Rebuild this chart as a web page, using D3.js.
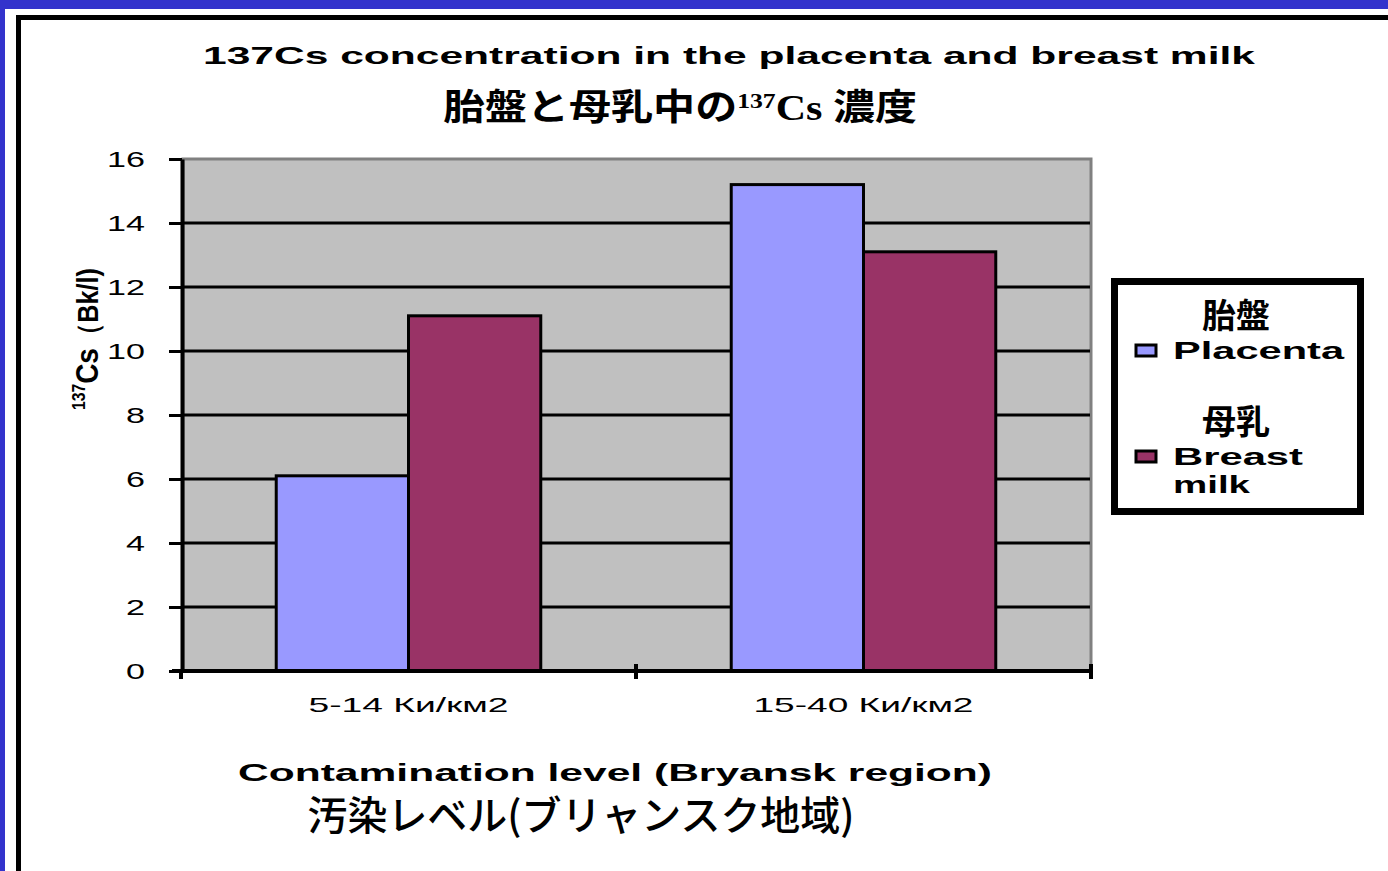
<!DOCTYPE html>
<html>
<head>
<meta charset="utf-8">
<script src="https://cdn.jsdelivr.net/npm/d3@7"></script>
<style>
  body { margin: 0; background: #3333cc; }
  svg { display: block; }
</style>
</head>
<body>
<div id="chart"></div>
<script>
(function() {

  // data
  var categories = ["5-14 Ки/км2", "15-40 Ки/км2"];
  var seriesNames = ["Placenta", "Breast milk"];
  var seriesJa = ["胎盤", "母乳"];
  var placenta = [6.1, 15.2];
  var breastMilk = [11.1, 13.1];
  var yTicks = [0, 2, 4, 6, 8, 10, 12, 14, 16];
  var colors = ["#9999ff", "#993366"];

  var width = 1388, height = 871;
  var latin = "'Liberation Sans', Arial, sans-serif";
  var cjk = "'Noto Sans CJK JP', sans-serif";

  var svg = d3.select("#chart").append("svg")
    .attr("width", width)
    .attr("height", height);

  // slide background: blue edge, white page, black frame
  svg.append("rect").attr("width", width).attr("height", height).attr("fill", "#3333cc");
  svg.append("rect").attr("x", 5).attr("y", 9).attr("width", width).attr("height", height).attr("fill", "#fff");
  svg.append("rect").attr("x", 18.5).attr("y", 17.5).attr("width", width + 50).attr("height", height + 50)
    .attr("fill", "#fff").attr("stroke", "#000").attr("stroke-width", 5);

  // stretch text horizontally, like the wide original font
  function stretch(sel, k) {
    sel.each(function() {
      var w = this.getComputedTextLength();
      d3.select(this).attr("textLength", w * k).attr("lengthAdjust", "spacingAndGlyphs");
    });
  }

  var plot = { left: 183, right: 1091, top: 159, bottom: 671 };

  var y = d3.scaleLinear().domain([0, 16]).range([plot.bottom, plot.top]);
  var x0 = d3.scaleBand().domain(categories).range([plot.left - 2, plot.right]).padding(0);
  var x1 = d3.scaleBand().domain(seriesNames).range([0, x0.bandwidth()]).paddingInner(0).paddingOuter(0.72);

  // plot area
  svg.append("rect")
    .attr("x", plot.left).attr("y", plot.top)
    .attr("width", plot.right - plot.left).attr("height", plot.bottom - plot.top)
    .attr("fill", "#c0c0c0").attr("stroke", "#808080").attr("stroke-width", 3);

  // gridlines
  svg.selectAll(".grid")
    .data(yTicks.filter(function(d) { return d > 0 && d < 16; }))
    .enter().append("line")
    .attr("class", "grid")
    .attr("x1", plot.left).attr("x2", plot.right - 1)
    .attr("y1", function(d) { return y(d); })
    .attr("y2", function(d) { return y(d); })
    .attr("stroke", "#000").attr("stroke-width", 3);

  // bars
  var rows = categories.map(function(c, i) {
    return { cat: c, values: [placenta[i], breastMilk[i]] };
  });
  var groups = svg.selectAll(".group")
    .data(rows)
    .enter().append("g")
    .attr("class", "group")
    .attr("transform", function(d) { return "translate(" + x0(d.cat) + ",0)"; });

  groups.selectAll("rect")
    .data(function(d) {
      return d.values.map(function(v, j) { return { name: seriesNames[j], value: v, j: j }; });
    })
    .enter().append("rect")
    .attr("x", function(d) { return x1(d.name); })
    .attr("width", x1.bandwidth())
    .attr("y", function(d) { return y(d.value); })
    .attr("height", function(d) { return y(0) - y(d.value); })
    .attr("fill", function(d) { return colors[d.j]; })
    .attr("stroke", "#000").attr("stroke-width", 3);

  // y axis
  var yAxis = svg.append("g")
    .attr("transform", "translate(" + (plot.left - 1) + ",0)")
    .call(d3.axisLeft(y).tickValues(yTicks).tickSize(13).tickSizeOuter(0).tickPadding(24));
  yAxis.select(".domain").attr("stroke", "#000").attr("stroke-width", 4);
  yAxis.selectAll(".tick line").attr("stroke", "#000").attr("stroke-width", 3);
  yAxis.selectAll(".tick text")
    .attr("font-family", latin).attr("font-size", 22).attr("fill", "#000")
    .call(stretch, 1.55);

  // x axis
  svg.append("line")
    .attr("x1", plot.left - 11).attr("x2", plot.right + 2)
    .attr("y1", plot.bottom).attr("y2", plot.bottom)
    .attr("stroke", "#000").attr("stroke-width", 4);
  var bounds = d3.range(categories.length + 1).map(function(i) {
    return x0.range()[0] + i * x0.step();
  });
  svg.selectAll(".xtick")
    .data(bounds)
    .enter().append("line")
    .attr("class", "xtick")
    .attr("x1", function(d) { return d; }).attr("x2", function(d) { return d; })
    .attr("y1", function(d, i) { return i === 0 ? plot.bottom : plot.bottom - 7; })
    .attr("y2", plot.bottom + 8)
    .attr("stroke", "#000").attr("stroke-width", 4);

  var xLabelLen = [200, 220];
  svg.selectAll(".xlabel")
    .data(categories)
    .enter().append("text")
    .attr("class", "xlabel")
    .attr("x", function(d) { return x0(d) + x0.bandwidth() / 2; })
    .attr("y", 712)
    .attr("text-anchor", "middle")
    .attr("font-family", latin).attr("font-size", 21)
    .attr("textLength", function(d, i) { return xLabelLen[i]; })
    .attr("lengthAdjust", "spacingAndGlyphs")
    .text(function(d) { return d; });

  // titles
  svg.append("text")
    .attr("x", 729).attr("y", 64)
    .attr("text-anchor", "middle")
    .attr("font-family", latin).attr("font-weight", "bold").attr("font-size", 24)
    .attr("textLength", 1052).attr("lengthAdjust", "spacingAndGlyphs")
    .text("137Cs concentration in the placenta and breast milk");

  var t2 = svg.append("text")
    .attr("x", 680).attr("y", 120)
    .attr("text-anchor", "middle")
    .attr("font-size", 36)
    .attr("textLength", 474).attr("lengthAdjust", "spacingAndGlyphs");
  t2.append("tspan").attr("font-family", cjk).attr("font-weight", "bold").text("胎盤と母乳中の");
  t2.append("tspan").attr("font-family", "'Liberation Serif', serif").attr("font-weight", "bold")
    .attr("font-size", 22).attr("dy", -12).text("137");
  t2.append("tspan").attr("font-family", "'Liberation Serif', serif").attr("font-weight", "bold")
    .attr("dy", 12).text("Cs ");
  t2.append("tspan").attr("font-family", cjk).attr("font-weight", "bold").text("濃度");

  // y axis title
  var yt = svg.append("text")
    .attr("transform", "translate(98,339) rotate(-90)")
    .attr("text-anchor", "middle")
    .attr("font-family", latin).attr("font-weight", "bold").attr("font-size", 32)
    .attr("textLength", 142).attr("lengthAdjust", "spacingAndGlyphs");
  yt.append("tspan").attr("font-size", 18).attr("dy", -13).text("137");
  yt.append("tspan").attr("dy", 13).text("Cs");
  yt.append("tspan").attr("font-size", 29).text("（Bk/l)");

  // x axis titles
  svg.append("text")
    .attr("x", 615).attr("y", 781)
    .attr("text-anchor", "middle")
    .attr("font-family", latin).attr("font-weight", "bold").attr("font-size", 24)
    .attr("textLength", 754).attr("lengthAdjust", "spacingAndGlyphs")
    .text("Contamination level (Bryansk region)");

  svg.append("text")
    .attr("x", 581).attr("y", 830)
    .attr("text-anchor", "middle")
    .attr("font-family", cjk).attr("font-weight", 500).attr("font-size", 40)
    .attr("textLength", 547).attr("lengthAdjust", "spacingAndGlyphs")
    .text("汚染レベル(ブリャンスク地域)");

  // legend
  var lg = svg.append("g");
  lg.append("rect")
    .attr("x", 1114.5).attr("y", 281.5).attr("width", 246).attr("height", 230)
    .attr("fill", "#fff").attr("stroke", "#000").attr("stroke-width", 7);

  var legendRows = [
    { ja: seriesJa[0], en: ["Placenta"], len: [171], color: colors[0], top: 300 },
    { ja: seriesJa[1], en: ["Breast", "milk"], len: [130, 77], color: colors[1], top: 406 }
  ];
  legendRows.forEach(function(r) {
    lg.append("text")
      .attr("x", 1236).attr("y", r.top + 28)
      .attr("text-anchor", "middle")
      .attr("font-family", cjk).attr("font-weight", "bold").attr("font-size", 34)
      .text(r.ja);
    lg.append("rect")
      .attr("x", 1136).attr("y", r.top + 45).attr("width", 20).attr("height", 11)
      .attr("fill", r.color).attr("stroke", "#000").attr("stroke-width", 3);
    r.en.forEach(function(s, k) {
      lg.append("text")
        .attr("x", 1173).attr("y", r.top + 59 + k * 28)
        .attr("font-family", latin).attr("font-weight", "bold").attr("font-size", 24)
        .attr("textLength", r.len[k]).attr("lengthAdjust", "spacingAndGlyphs")
        .text(s);
    });
  });

})();
</script>
</body>
</html>
